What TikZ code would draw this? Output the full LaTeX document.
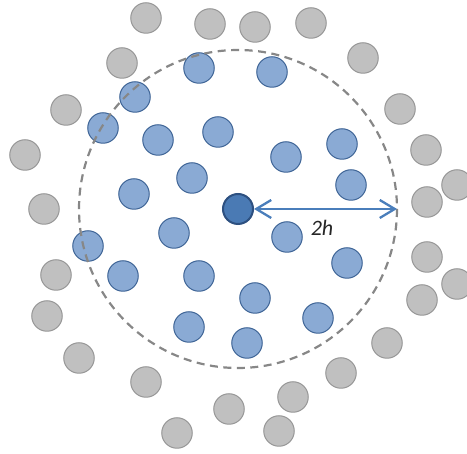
\documentclass[tikz,border=0pt]{standalone}
\usepackage{fontspec}
\newfontfamily\labelfont{Carlito}
\usetikzlibrary{arrows.meta}
\definecolor{grayfill}{RGB}{192,192,192}
\definecolor{grayline}{RGB}{150,150,150}
\definecolor{bluefill}{RGB}{138,170,212}
\definecolor{blueline}{RGB}{62,100,150}
\definecolor{centerfill}{RGB}{74,122,180}
\definecolor{centerline}{RGB}{45,80,128}
\definecolor{arrowblue}{RGB}{74,126,187}
\tikzset{
  outer/.style={circle,draw=grayline,fill=grayfill,line width=1pt,minimum size=30.5pt,inner sep=0pt},
  inner/.style={circle,draw=blueline,fill=bluefill,line width=1pt,minimum size=30.5pt,inner sep=0pt},
  focal/.style={circle,draw=centerline,fill=centerfill,line width=2pt,minimum size=30pt,inner sep=0pt},
}
\begin{document}
\begin{tikzpicture}[x=1pt,y=1pt,yscale=-1,xscale=1]
\useasboundingbox (0,0) rectangle (467,454);

% Gray particles
\foreach \px/\py [count=\i] in {146/18,210/24,255/27,311/23,122/63,363/58,66/110,400/109,
    25/155,426/150,44/209,427/202,457/185,56/275,427/257,47/316,422/300,457/284,
    79/358,387/343,146/382,341/373,229/409,293/397,177/433,279/431}
  \node[outer] (g\i) at (\px,\py) {};

% Blue particles
\foreach \px/\py [count=\i] in {199/68,272/72,135/97,103/128,158/140,218/132,286/157,
    342/144,192/178,134/194,351/185,174/233,287/237,88/246,123/276,199/276,
    347/263,255/298,189/327,318/318,247/343}
  \node[inner] (b\i) at (\px,\py) {};

% Center particle
\node[focal] (c) at (238,209) {};

% Dashed support circle
\draw[grayline!90!black,line width=2.2pt,dash pattern=on 8pt off 5.5pt] (c.center) circle (159);

% Arrow
\coordinate (rim) at (397,209);
\draw[arrowblue,line width=2.3pt,{Straight Barb[length=15pt,width=18pt]}-{Straight Barb[length=15pt,width=18pt]}] (c) -- (rim);

% Text Node
\node[font=\labelfont\itshape\fontsize{22}{26}\selectfont,text=black!85] (lbl) at (322,228) {2h};
\end{tikzpicture}
\end{document}
